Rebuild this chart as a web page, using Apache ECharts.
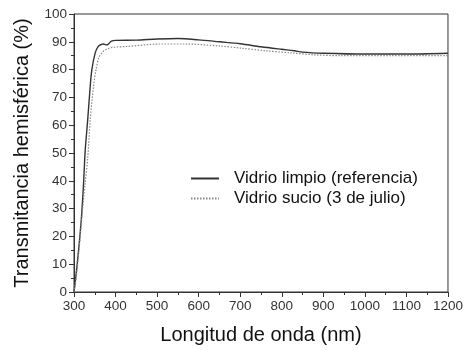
<!DOCTYPE html>
<html>
<head>
<meta charset="utf-8">
<script src="https://cdn.jsdelivr.net/npm/echarts@6/dist/echarts.min.js"></script>
<style>
html,body{margin:0;padding:0;background:#fff;}
#c{width:466px;height:350px;}
</style>
</head>
<body>
<div id="c"></div>
<script>
var xTicks = [300, 400, 500, 600, 700, 800, 900, 1000, 1100, 1200];
var yTicks = [0, 10, 20, 30, 40, 50, 60, 70, 80, 90, 100];

var cleanX = [300, 304, 311, 318, 323, 327, 333, 339, 343, 351, 358, 365, 370, 377, 382, 390, 400, 450, 500, 550, 600, 650, 700, 750, 800, 830, 850, 900, 1000, 1100, 1200];
var cleanY = [0, 5, 15, 27, 39, 51, 62, 74, 80, 86, 88.3, 89.0, 89.2, 88.9, 89.1, 90.2, 90.5, 90.6, 91.0, 91.2, 90.7, 90.0, 89.3, 88.2, 87.3, 86.8, 86.3, 85.9, 85.6, 85.6, 85.9];

var dirtyX = [300, 305, 312, 319, 326, 333, 339, 347, 353, 360, 365, 370, 380, 393, 426, 505, 568, 650, 703, 760, 823, 880, 943, 1063, 1200];
var dirtyY = [0, 5, 15, 27, 38, 48, 62, 74, 80, 84.5, 85.5, 86.5, 87.4, 88.0, 88.3, 89.2, 89.2, 88.5, 87.7, 86.8, 86.0, 85.3, 85.0, 85.0, 85.0];

var seriesNames = ['Vidrio limpio (referencia)', 'Vidrio sucio (3 de julio)'];

function pairs(xs, ys) { return xs.map(function (x, i) { return [x, ys[i]]; }); }

var chart = echarts.init(document.getElementById('c'), null, {renderer: 'canvas'});
var font = 'Liberation Sans, Arial, sans-serif';
chart.setOption({
  animation: false,
  grid: {left: 74, right: 15, top: 14, bottom: 58, show: true, borderColor: '#333', borderWidth: 1},
  legend: {
    orient: 'vertical', left: 185, top: 165, itemGap: 3, itemWidth: 28, itemHeight: 14,
    itemStyle: {opacity: 0},
    textStyle: {fontFamily: font, fontSize: 17, color: '#111', padding: [0, 0, 0, 10]},
    data: seriesNames
  },
  xAxis: {
    type: 'value', min: xTicks[0], max: xTicks[xTicks.length - 1], interval: 100,
    name: 'Longitud de onda (nm)', nameLocation: 'middle', nameGap: 33,
    nameTextStyle: {fontFamily: font, fontSize: 20, color: '#111'},
    axisLine: {show: true, onZero: false, lineStyle: {color: '#333'}},
    axisTick: {show: true, inside: false, length: 5, lineStyle: {color: '#333'}},
    minorTick: {show: true, splitNumber: 2, length: 3, lineStyle: {color: '#333'}},
    axisLabel: {fontFamily: font, fontSize: 13.5, color: '#333', margin: 7, formatter: function (v) { return String(v); }},
    splitLine: {show: false}
  },
  yAxis: {
    type: 'value', min: yTicks[0], max: yTicks[yTicks.length - 1], interval: 10,
    name: 'Transmitancia hemisférica (%)', nameLocation: 'middle', nameGap: 42,
    nameTextStyle: {fontFamily: font, fontSize: 20, color: '#111'},
    axisLine: {show: true, onZero: false, lineStyle: {color: '#333'}},
    axisTick: {show: true, inside: false, length: 5, lineStyle: {color: '#333'}},
    minorTick: {show: true, splitNumber: 2, length: 3, lineStyle: {color: '#333'}},
    axisLabel: {fontFamily: font, fontSize: 13.5, color: '#333', margin: 7, formatter: function (v) { return String(v); }},
    splitLine: {show: false}
  },
  series: [
    {
      name: seriesNames[0], type: 'line', data: pairs(cleanX, cleanY),
      showSymbol: false, symbol: 'none', smooth: 0.3,
      lineStyle: {color: '#333', width: 1.4, type: 'solid'},
      itemStyle: {color: '#333'}
    },
    {
      name: seriesNames[1], type: 'line', data: pairs(dirtyX, dirtyY),
      showSymbol: false, symbol: 'none', smooth: 0.3,
      lineStyle: {color: '#888', width: 1.2, type: [1.5, 1.5]},
      itemStyle: {color: '#888'}
    }
  ]
});
</script>
</body>
</html>
